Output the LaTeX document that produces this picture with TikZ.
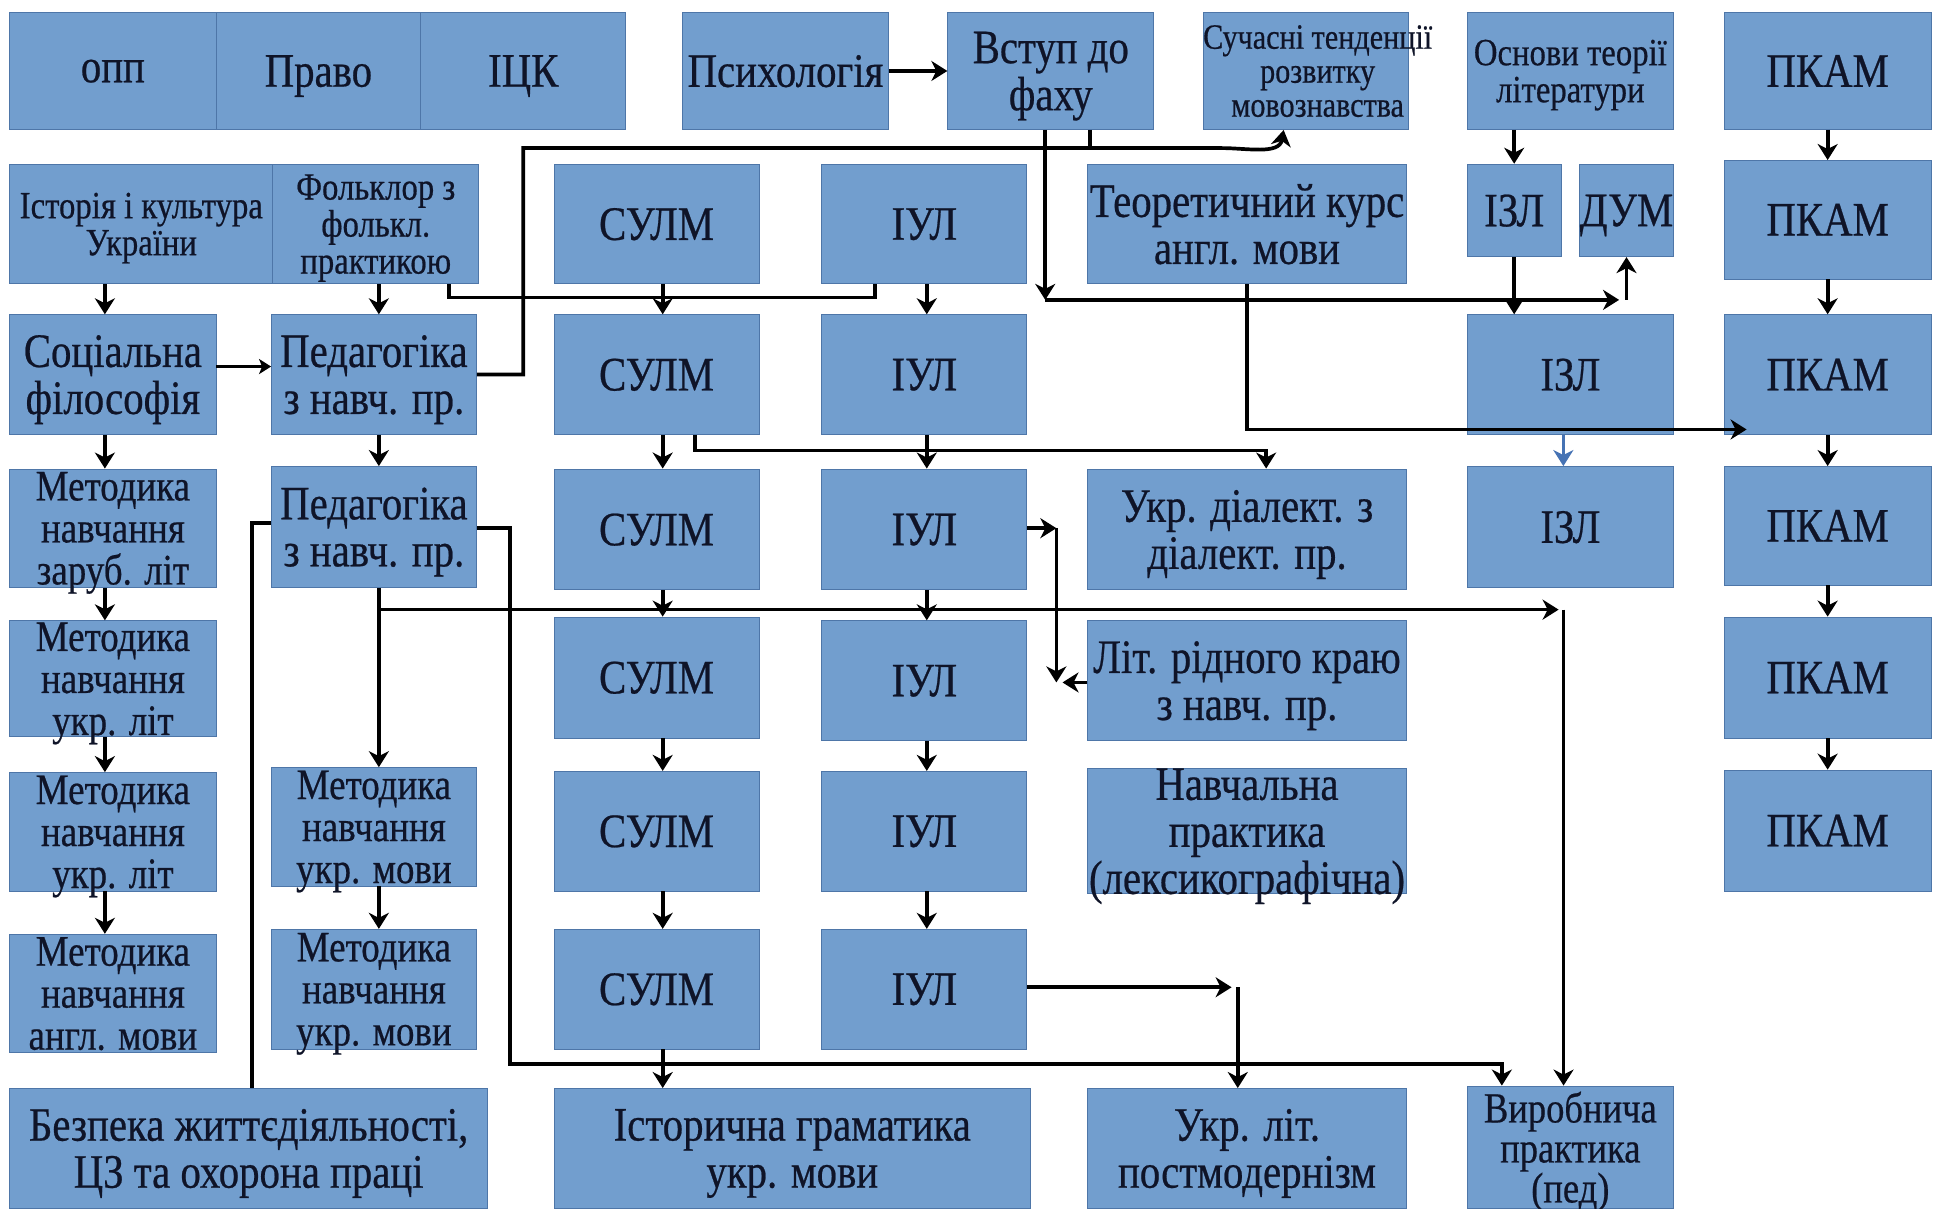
\documentclass[tikz,border=0pt]{standalone}
\usepackage{fontspec}
\setmainfont{Liberation Serif}
\newfontfamily\dfont{Liberation Serif}[FakeStretch=0.85,FakeBold=0.5]
\usetikzlibrary{arrows.meta,calc}
\definecolor{boxfill}{RGB}{114,158,206}
\definecolor{boxline}{RGB}{78,118,168}
\definecolor{txt}{RGB}{15,20,40}
\definecolor{bluearr}{RGB}{70,115,180}
\newcommand\fbig{\dfont\fontsize{48}{47}\selectfont}
\newcommand\fmed{\dfont\fontsize{43.5}{42}\selectfont}
\newcommand\fvyr{\dfont\fontsize{43}{40}\selectfont}
\newcommand\fsm{\dfont\fontsize{38.5}{37}\selectfont}
\newcommand\fsuch{\dfont\fontsize{35.5}{34}\selectfont}
\newcommand\mybox[7]{%
  \node[dbox, minimum width={(#4-#2)*1.234pt}, minimum height={(#5-#3)*1.234pt}, font=#6]
    (#1) at ({(#2+#4)/2},{(#3+#5)/2}) {#7};}
\tikzset{
  dbox/.style={draw=boxline, line width=0.8pt, fill=boxfill, text=txt, align=center, inner sep=0pt, text depth=0pt},
  ln/.style={line width=3.7pt, black},
  arr/.style={ln, -{Stealth[length=16pt,width=20pt,inset=5pt]}},
}
\begin{document}
\begin{tikzpicture}[x=1.234pt,y=-1.234pt]
\fill[white] (0,0) rectangle (1568,979);
\useasboundingbox (0,0) rectangle (1568,979);

% row 1
\mybox{opp}{8}{10}{175}{105}{\fbig}{опп}
\mybox{pravo}{175}{10}{341}{105}{\fbig}{Право}
\mybox{ick}{341}{10}{507}{105}{\fbig}{ІЦК}
\mybox{psy}{553}{10}{720}{105}{\fbig}{Психологія}
\mybox{vstup}{768}{10}{935}{105}{\fbig}{Вступ до\\фаху}
\mybox{such}{975}{10}{1141}{105}{\fsuch}{}
\node[font=\fsuch, text=txt, align=center, inner sep=0pt, text depth=0pt] (suchtxt) at ([xshift=12pt]such.center) {Сучасні тенденції\\розвитку\\мовознавства};
\mybox{osn}{1189}{10}{1356}{105}{\fsm}{Основи теорії\\літератури}
\mybox{pk1}{1397}{10}{1565}{105}{\fbig}{ПКАМ}
% row 2
\mybox{ist}{8}{133}{221}{230}{\fsm}{Історія і культура\\України}
\mybox{folk}{221}{133}{388}{230}{\fsm}{Фольклор з\\фолькл.\\практикою}
\mybox{s1}{449}{133}{615}{230}{\fbig}{СУЛМ}
\mybox{i1}{666}{133}{832}{230}{\fbig}{ІУЛ}
\mybox{teor}{881}{133}{1140}{230}{\fbig}{Теоретичний курс\\англ. мови}
\mybox{izl1}{1189}{133}{1265}{208}{\fbig}{ІЗЛ}
\mybox{dum}{1280}{133}{1356}{208}{\fbig}{ДУМ}
\mybox{pk2}{1397}{130}{1565}{226}{\fbig}{ПКАМ}
% row 3
\mybox{soc}{8}{255}{175}{352}{\fbig}{Соціальна\\філософія}
\mybox{ped1}{220}{255}{386}{352}{\fbig}{Педагогіка\\з навч. пр.}
\mybox{s2}{449}{255}{615}{352}{\fbig}{СУЛМ}
\mybox{i2}{666}{255}{832}{352}{\fbig}{ІУЛ}
\mybox{izl2}{1189}{255}{1356}{352}{\fbig}{ІЗЛ}
\mybox{pk3}{1397}{255}{1565}{352}{\fbig}{ПКАМ}
% row 4
\mybox{mz}{8}{380}{175}{476}{\fmed}{Методика\\навчання\\заруб. літ}
\mybox{ped2}{220}{378}{386}{476}{\fbig}{Педагогіка\\з навч. пр.}
\mybox{s3}{449}{380}{615}{478}{\fbig}{СУЛМ}
\mybox{i3}{666}{380}{832}{478}{\fbig}{ІУЛ}
\mybox{dial}{881}{380}{1140}{478}{\fbig}{Укр. діалект. з\\діалект. пр.}
\mybox{izl3}{1189}{378}{1356}{476}{\fbig}{ІЗЛ}
\mybox{pk4}{1397}{378}{1565}{474}{\fbig}{ПКАМ}
% row 5
\mybox{mu1}{8}{503}{175}{597}{\fmed}{Методика\\навчання\\укр. літ}
\mybox{s4}{449}{500}{615}{598}{\fbig}{СУЛМ}
\mybox{i4}{666}{503}{832}{600}{\fbig}{ІУЛ}
\mybox{litr}{881}{503}{1140}{600}{\fbig}{Літ. рідного краю\\з навч. пр.}
\mybox{pk5}{1397}{500}{1565}{598}{\fbig}{ПКАМ}
% row 6
\mybox{mu2}{8}{626}{175}{722}{\fmed}{Методика\\навчання\\укр. літ}
\mybox{mm1}{220}{622}{386}{718}{\fmed}{Методика\\навчання\\укр. мови}
\mybox{s5}{449}{625}{615}{722}{\fbig}{СУЛМ}
\mybox{i5}{666}{625}{832}{722}{\fbig}{ІУЛ}
\mybox{nav}{881}{625}{1140}{722}{\fbig}{Навчальна\\практика\\(лексикографічна)}
\mybox{pk6}{1397}{624}{1565}{722}{\fbig}{ПКАМ}
% row 7
\mybox{ma}{8}{757}{175}{853}{\fmed}{Методика\\навчання\\англ. мови}
\mybox{mm2}{220}{753}{386}{850}{\fmed}{Методика\\навчання\\укр. мови}
\mybox{s6}{449}{753}{615}{850}{\fbig}{СУЛМ}
\mybox{i6}{666}{753}{832}{850}{\fbig}{ІУЛ}
% row 8
\mybox{bez}{8}{882}{395}{979}{\fbig}{Безпека життєдіяльності,\\ЦЗ та охорона праці}
\mybox{igr}{449}{882}{835}{979}{\fbig}{Історична граматика\\укр. мови}
\mybox{post}{881}{882}{1140}{979}{\fbig}{Укр. літ.\\постмодернізм}
\mybox{vyr}{1189}{880}{1356}{979}{\fvyr}{Виробнича\\практика\\(пед)}

% column coordinates
\coordinate (xL) at (85,0);
\coordinate (xP) at (307,0);
\coordinate (xS) at (537,0);
\coordinate (xI) at (751,0);
\coordinate (xK) at (1481,0);
\coordinate (xZ) at (1227,0);

% vertical chains
\draw[arr] (ist.south -| xL) -- (soc.north -| xL);
\foreach \a/\b in {soc/mz, mz/mu1, mu1/mu2, mu2/ma}
  \draw[arr] (\a.south -| xL) -- (\b.north -| xL);
\draw[arr] (folk.south -| xP) -- (ped1.north -| xP);
\draw[arr] (ped1.south -| xP) -- (ped2.north -| xP);
\draw[arr] (ped2.south -| xP) -- (mm1.north -| xP);
\draw[arr] (mm1.south -| xP) -- (mm2.north -| xP);
\foreach \a/\b in {s1/s2, s2/s3, s3/s4, s4/s5, s5/s6, s6/igr}
  \draw[arr] (\a.south -| xS) -- (\b.north -| xS);
\foreach \a/\b in {i1/i2, i2/i3, i3/i4, i4/i5, i5/i6}
  \draw[arr] (\a.south -| xI) -- (\b.north -| xI);
\foreach \a/\b in {pk1/pk2, pk2/pk3, pk3/pk4, pk4/pk5, pk5/pk6}
  \draw[arr] (\a.south -| xK) -- (\b.north -| xK);
\draw[arr] (osn.south -| xZ) -- (izl1.north -| xZ);
\draw[arr] (izl1.south -| xZ) -- (izl2.north -| xZ);
\draw[arr, draw=bluearr, fill=bluearr, line width=3.4pt] ([xshift=-7pt]izl2.south) -- ([xshift=-7pt]izl3.north);

% psychology -> intro
\draw[arr] (psy.east) -- (vstup.west);
% social philosophy -> pedagogy
\draw[ln, line width=2.4pt, -{Stealth[length=12pt,width=15pt,inset=3pt]}] ([yshift=8pt]soc.east) -- ([yshift=8pt]ped1.west);

% pedagogy 1 / intro -> modern trends
\coordinate (pA) at (424,120);
\coordinate (pB) at (990,120);
\draw[arr] (ped1.east) -| (pA) -- (pB) to[out=0,in=-100] ([xshift=-22pt]such.south);
\coordinate (vB) at (883,120);
\draw[ln] (vstup.south -| vB) -- (vB);

% intro -> DUM
\coordinate (g1) at (847,243);
\coordinate (g2) at (1312,243);
\draw[arr] (vstup.south -| g1) -- (g1);
\draw[arr] (g1) -- (g2);
\draw[arr] (dum.south |- g2) -- (dum.south);

% folklore -- IUL bracket
\coordinate (h1) at (364,241);
\coordinate (h2) at (709,241);
\draw[ln] (folk.south -| h1) -- (h1) -- (h2) -- (i1.south -| h2);

% theoretical course -> PKAM 3
\coordinate (k1) at (1010.5,348);
\coordinate (k2) at ([xshift=23pt]pk3.west);
\draw[arr] (teor.south) -- (k1) -- (k2 |- k1);

% SULM 2 -> dialectology
\coordinate (l1) at (563,365);
\coordinate (l2) at (1026,365);
\draw[arr] (s2.south -| l1) -- (l1) -- (l2) -- (dial.north -| l2);

% IUL 3 / native literature
\coordinate (m1) at (856,428);
\coordinate (m2) at (856,553);
\coordinate (m3) at (861,553);
\draw[arr] (i3.east |- m1) -- (m1);
\draw[arr] (m1) -- (m2);
\draw[arr] (litr.west |- m3) -- (m3);

% pedagogy 2 -- safety
\coordinate (n1) at (204,424);
\draw[ln] (ped2.west |- n1) -- (n1) -- (bez.north -| n1);

% pedagogy 2 -> practice
\coordinate (o1) at (413,428);
\coordinate (o2) at (413,862);
\coordinate (o3) at (1217,862);
\draw[arr] (ped2.east |- o1) -- (o1) -- (o2) -- (o3) -- (vyr.north -| o3);

\coordinate (p1) at (307,494);
\coordinate (p2) at (1263,494);
\coordinate (p3) at (1267,494);
\draw[arr] (ped2.south -| p1) -- (p1) -- (p2);
\draw[arr] (p3) -- (vyr.north -| p3);

% IUL 6 -> postmodernism
\coordinate (r1) at (998,800);
\coordinate (r2) at (1003,800);
\draw[arr] (i6.east |- r1) -- (r1);
\draw[arr] (r2) -- (post.north -| r2);
\end{tikzpicture}
\end{document}
